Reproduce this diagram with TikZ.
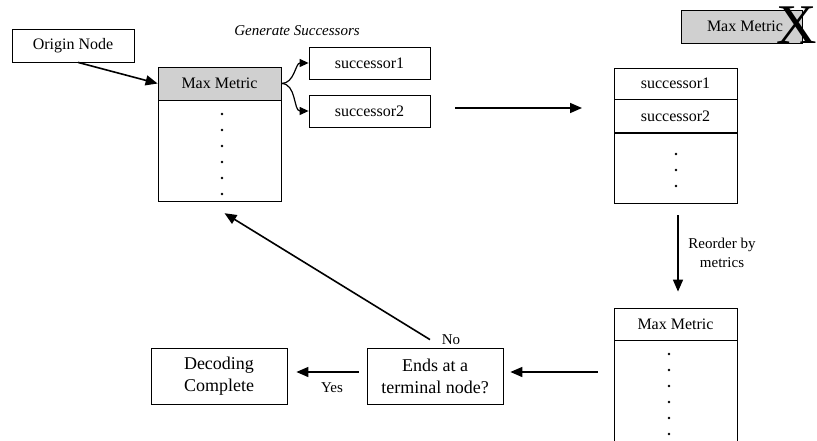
\documentclass[tikz,border=0pt]{standalone}
\usepackage{fontspec}
\setmainfont{Liberation Serif}
\usetikzlibrary{arrows.meta, positioning}
\definecolor{hdrgray}{RGB}{208,208,208}

\begin{document}
\begin{tikzpicture}[x=1pt, y=-1pt, node distance=0pt,
  box/.style={draw, line width=0.8pt, minimum width=123pt, minimum height=33pt,
    inner sep=0pt, font=\fontsize{16}{18}\selectfont},
  hdr/.style={box, fill=hdrgray},
  bigbox/.style={box, minimum width=136pt, minimum height=56pt, align=center,
    font=\fontsize{18}{22}\selectfont},
  flow/.style={-{Triangle[length=12pt,width=10pt]}, line width=1.6pt},
  gen/.style={-{Triangle[length=9pt,width=8pt]}, line width=1.2pt},
  lbl/.style={font=\fontsize{15}{19}\selectfont}]
  \useasboundingbox (0,0) rectangle (817,441);

  % left side
  \node[box, minimum width=122pt] (origin) at (73,45.5) {Origin Node};
  \node[hdr] (maxl) at (219.5,83.5) {Max Metric};
  \node[box, minimum height=101pt, below=of maxl] (listl) {};
  \foreach \y in {114,130,...,194}
    \fill (222,\y) circle (1.3pt);

  % successors
  \node[lbl, font=\fontsize{15}{17}\selectfont\itshape] (genlbl) at (297,31) {Generate Successors};
  \node[box, minimum width=121pt, minimum height=32pt] (succ1) at (369.5,63) {successor1};
  \node[box, minimum width=121pt, minimum height=32pt] (succ2) at (369.5,111) {successor2};

  % right stack
  \node[box, minimum height=31pt] (r1) at (675.5,83.5) {successor1};
  \node[box, below=of r1] (r2) {successor2};
  \node[box, minimum height=70pt, below=of r2] (r3) {};
  \foreach \y in {154,170,186}
    \fill (676,\y) circle (1.3pt);

  % removed head
  \node[hdr, minimum width=121pt] (maxtop) at (741.5,26.5) {\hspace{7pt}Max Metric};
  \node[font=\fontsize{56}{56}\selectfont, inner sep=0pt] (cross) at (796.5,25) {X};

  % reordered stack
  \node[box, minimum height=32pt] (b1) at (675.5,324) {Max Metric};
  \node[box, minimum height=106pt, below=of b1] (b2) {};
  \foreach \y in {354,370,...,434}
    \fill (669,\y) circle (1.3pt);
  \node[lbl, align=center] (reord) at (722,253) {Reorder by\\metrics};

  % decision
  \node[bigbox] (ends) at (435,376) {Ends at a\\terminal node?};
  \node[bigbox] (dec) at (219,376) {Decoding\\Complete};
  \node[lbl] (yes) at (332,388) {Yes};
  \node[lbl] (no) at (451,340) {No};

  \coordinate (hs) at (455,108);
  \coordinate (he) at (582,108);
  \coordinate (mid) at ([yshift=4pt]ends.east);

  \draw[flow] ([xshift=5pt]origin.south) -- (maxl.west);
  \draw[gen] (maxl.east) to[out=0, in=180] (succ1.west);
  \draw[gen] (maxl.east) to[out=0, in=180] (succ2.west);
  \draw[flow] (hs) -- (he);
  \draw[flow, shorten <=11pt, shorten >=16pt] ([xshift=2.5pt]r3.south) -- ([xshift=2.5pt]b1.north);
  \draw[flow, shorten <=16pt, shorten >=7pt] (b2.west |- mid) -- (mid);
  \draw[flow, shorten <=8pt, shorten >=9pt] ([yshift=4pt]ends.west) -- ([yshift=4pt]dec.east);
  \draw[flow] ([xshift=-5pt,yshift=8pt]ends.north) -- ([xshift=5pt,yshift=-11pt]listl.south);
\end{tikzpicture}
\end{document}
